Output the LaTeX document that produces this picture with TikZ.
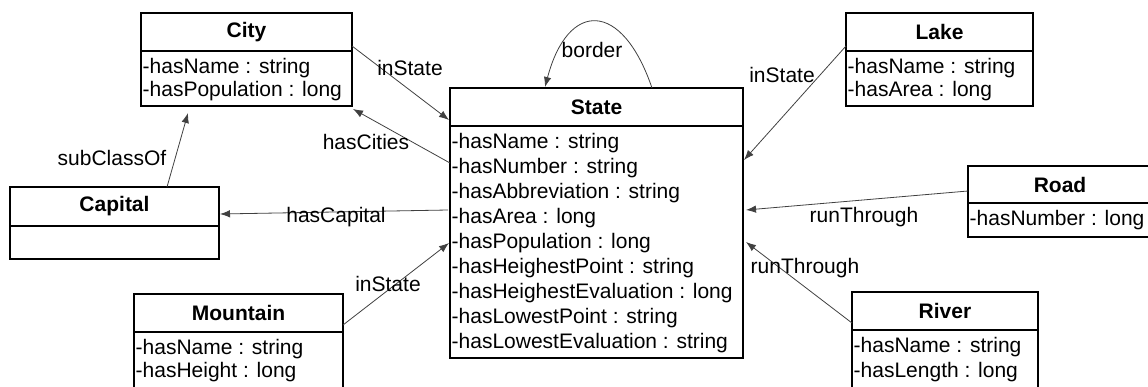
\documentclass[tikz,border=0pt]{standalone}
\usepackage{fontspec}
\setmainfont{Liberation Sans}
\usetikzlibrary{calc,arrows.meta}
\tikzset{
  hdr/.style={draw, line width=1.6pt, outer sep=0pt, inner sep=0pt, font=\bfseries},
  bodybox/.style={draw, line width=1.6pt, outer sep=0pt, inner sep=0pt},
  attr/.style={anchor=base west, inner sep=0pt},
  conn/.style={draw=black!75, line width=0.8pt, -{Latex[length=10pt,width=7.5pt]}},
  lbl/.style={inner sep=0pt}
}
\newcommand{\umlclass}[7]{%
  \node[hdr, minimum width=#4pt, minimum height=#5pt, anchor=north west] (#1) at (#2,#3) {#7};
  \node[bodybox, minimum width=#4pt, minimum height=#6pt, anchor=north west] (#1b) at (#1.south west) {};
}
\newcommand{\umlattrs}[3]{%
  \foreach \a [count=\i, evaluate=\i as \yy using 22+(\i-1)*#2] in {#3} {%
    \node[attr] (#1a\i) at ($(#1b.north west)+(1.5,\yy)$) {\a};}
}
\begin{document}
\begin{tikzpicture}[x=1pt,y=-1pt]
\fontsize{21}{25}\selectfont
\useasboundingbox (0,0) rectangle (1148,386);
\begin{scope}
\clip (0,0) rectangle (1148,386);
\umlclass{city}{141}{13}{211}{38}{55}{City}
\umlattrs{city}{23}{-hasName : string,-hasPopulation : long}
\umlclass{state}{450}{88}{293}{38}{232}{State}
\umlattrs{state}{25}{-hasName : string,-hasNumber : string,-hasAbbreviation : string,-hasArea : long,-hasPopulation : long,-hasHeighestPoint : string,-hasHeighestEvaluation : long,-hasLowestPoint : string,-hasLowestEvaluation : string}
\umlclass{lake}{846}{13}{187}{38}{55}{Lake}
\umlattrs{lake}{23.5}{-hasName : string,-hasArea : long}
\umlclass{road}{968}{166}{184}{37}{34}{Road}
\umlattrs{road}{24}{-hasNumber : long}
\umlclass{river}{852}{292}{186}{38}{120}{River}
\umlattrs{river}{25}{-hasName : string,-hasLength : long}
\umlclass{capital}{10}{187}{209}{39}{33}{Capital}
\umlclass{mountain}{134}{294}{209}{38}{120}{Mountain}
\umlattrs{mountain}{23.5}{-hasName : string,-hasHeight : long}
\end{scope}

% connectors
\draw[conn] ($(city.south east)+(0,-5)$) -- ($(state.south west)+(-1,-6)$);
\draw[conn] ($(stateb.north west)+(0,37)$) -- ($(cityb.south east)+(1,3)$);
\draw[conn] ($(capital.north west)+(157,0)$) -- ($(cityb.south west)+(47,7)$);
\draw[conn] ($(stateb.north west)+(-2,84)$) -- ($(capital.east)+(1,7.5)$);
\draw[conn] ($(mountain.east)+(0,12)$) -- ($(stateb.north west)+(-1,117)$);
\draw[conn] ($(state.north west)+(202,0)$) .. controls (622,0) and (568,0) .. ($(state.north west)+(95,-1)$);
\draw[conn] ($(lake.south west)+(0,-5)$) -- ($(stateb.north east)+(1,34)$);
\draw[conn] ($(road.west)+(0,6.5)$) -- ($(stateb.north east)+(3,84)$);
\draw[conn] ($(river.south west)+(0,-7)$) -- ($(stateb.north east)+(3,116)$);

% labels
\node[lbl] (l1) at (410,68) {inState};
\node[lbl] (l2) at (366,142) {hasCities};
\node[lbl] (l3) at (112,158) {subClassOf};
\node[lbl] (l4) at (336,217) {hasCapital};
\node[lbl] (l5) at (388,284) {inState};
\node[lbl] (l6) at (592,50) {border};
\node[lbl] (l7) at (782,75) {inState};
\node[lbl] (l8) at (864,217) {runThrough};
\node[lbl] (l9) at (805,268) {runThrough};
\end{tikzpicture}
\end{document}
